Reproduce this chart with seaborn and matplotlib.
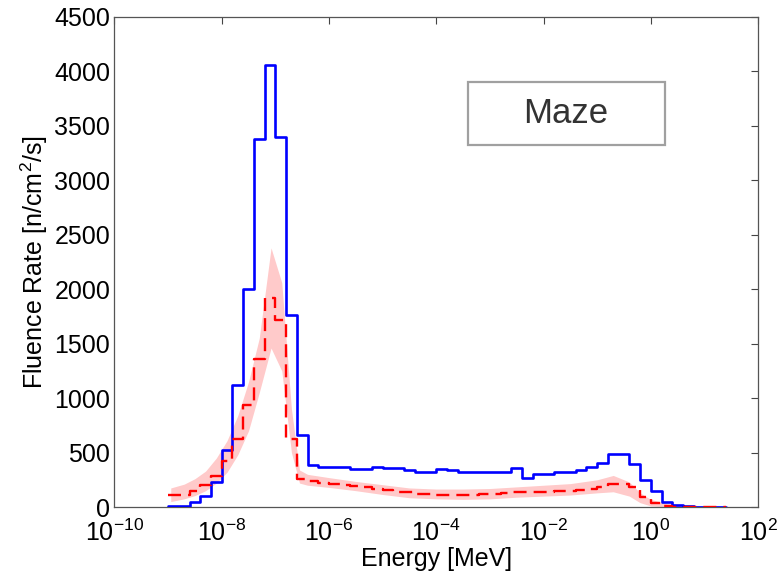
import matplotlib
matplotlib.use("Agg")
import matplotlib.pyplot as plt
from matplotlib.patches import Rectangle
from matplotlib.ticker import NullLocator
import numpy as np
import pandas as pd
import seaborn as sns

# ── Data ─────────────────────────────────────────────────────────────────────
# bin edges in log10(E / MeV)
log_edges = [-9.0, -8.8, -8.6, -8.4, -8.2, -8.0, -7.8, -7.6, -7.4, -7.2,
             -7.0, -6.8, -6.6, -6.4, -6.2, -6.0, -5.8, -5.6, -5.4, -5.2,
             -5.0, -4.8, -4.6, -4.4, -4.2, -4.0, -3.8, -3.6, -3.4, -3.2,
             -3.0, -2.8, -2.6, -2.4, -2.2, -2.0, -1.8, -1.6, -1.4, -1.2,
             -1.0, -0.8, -0.6, -0.4, -0.2, 0.0, 0.2, 0.4, 0.6, 0.8,
             1.0, 1.2, 1.4]

# solid blue histogram
blue_rate = [5, 5, 46, 98, 230, 521, 1124, 2005, 3383, 4056,
             3398, 1760, 658, 389, 367, 367, 367, 349, 349, 367,
             358, 358, 337, 321, 321, 352, 343, 321, 321, 321,
             321, 325, 358, 270, 306, 306, 321, 321, 337, 367,
             404, 490, 490, 398, 250, 150, 50, 16, 6, 2,
             1, 1]

# dashed red histogram
red_rate = [107, 110, 150, 200, 283, 420, 628, 934, 1363, 1923,
            1721, 628, 255, 235, 225, 210, 205, 190, 180, 165,
            155, 140, 135, 120, 115, 112, 110, 110, 112, 115,
            122, 128, 135, 142, 140, 140, 147, 150, 155, 168,
            184, 208, 208, 185, 92, 35, 10, 4, 2, 1,
            0.5, 0.5]

# shaded uncertainty band around the red histogram
band_logE = [-8.95, -8.7, -8.5, -8.3, -8.1, -7.9, -7.7, -7.5, -7.3, -7.08,
             -6.88, -6.7, -6.55, -6.4, -6.0, -5.5, -5.0, -4.5, -4.0, -3.5,
             -3.0, -2.5, -2.0, -1.5, -1.0, -0.7, -0.4, -0.2, 0.0, 0.3,
             0.7, 1.33]
band_hi = [175, 210, 260, 330, 450, 610, 840, 1150, 1550, 2380,
           2060, 900, 340, 300, 270, 235, 205, 175, 165, 165,
           170, 185, 200, 215, 250, 290, 230, 130, 70, 30,
           15, 5]
band_lo = [50, 75, 105, 150, 220, 320, 480, 700, 1050, 1460,
           1250, 500, 220, 200, 180, 150, 115, 85, 75, 70,
           75, 90, 100, 110, 130, 140, 100, 40, 10, 2,
           0, 0]

# ── Plot ─────────────────────────────────────────────────────────────────────
sns.set_style("white")
plt.rcParams["font.family"] = ["Liberation Sans", "DejaVu Sans"]
plt.rcParams["mathtext.fontset"] = "custom"
plt.rcParams["mathtext.rm"] = "Liberation Sans"
plt.rcParams["mathtext.it"] = "Liberation Sans:italic"
plt.rcParams["text.color"] = "black"
plt.rcParams["axes.labelcolor"] = "black"

fig = plt.figure(figsize=(7.79, 5.74), dpi=100)
ax = fig.add_axes([0.1469, 0.1167, 0.8262, 0.8537])

energy = 10.0 ** np.array(log_edges)
blue_df = pd.DataFrame({"E": energy, "rate": blue_rate + [blue_rate[-1]]})
red_df = pd.DataFrame({"E": energy, "rate": red_rate + [red_rate[-1]]})

ax.fill_between(10.0 ** np.array(band_logE), band_lo, band_hi,
                color="#ffcaca", lw=0, zorder=1)
sns.lineplot(data=blue_df, x="E", y="rate", drawstyle="steps-post",
             color="#0000ff", lw=1.9, estimator=None, ax=ax, zorder=3)
sns.lineplot(data=red_df, x="E", y="rate", drawstyle="steps-post",
             color="#ff0000", lw=1.7, linestyle=(0, (5.5, 3)),
             estimator=None, ax=ax, zorder=4)

ax.set_xscale("log")
ax.set_xlim(1e-10, 1e2)
ax.set_ylim(0, 4500)
ax.set_xticks([1e-10, 1e-8, 1e-6, 1e-4, 1e-2, 1e0, 1e2])
ax.xaxis.set_minor_locator(NullLocator())
ax.set_yticks(range(0, 4501, 500))

ax.tick_params(direction="in", top=True, right=True, length=5, width=0.8,
               color="#444444", labelcolor="black", labelsize=18)
ax.tick_params(axis="y", pad=3)
ax.tick_params(axis="x", pad=9)
for sp in ax.spines.values():
    sp.set_color("#555555")
    sp.set_linewidth(0.9)

ax.set_xlabel("Energy [MeV]", fontsize=18, labelpad=1)
ax.set_ylabel("Fluence Rate [n/cm$^2$/s]", fontsize=18, labelpad=3)

ax.add_patch(Rectangle((0.5494, 0.7388), 0.3061, 0.1285, transform=ax.transAxes,
                       fill=True, fc="white", ec="#a0a0a0", lw=1.6, zorder=5))
ax.text(0.7016, 0.803, "Maze", transform=ax.transAxes, ha="center", va="center",
        fontsize=25, color="#333333", zorder=6)

fig.savefig("out.png", dpi=100)
plt.close(fig)
